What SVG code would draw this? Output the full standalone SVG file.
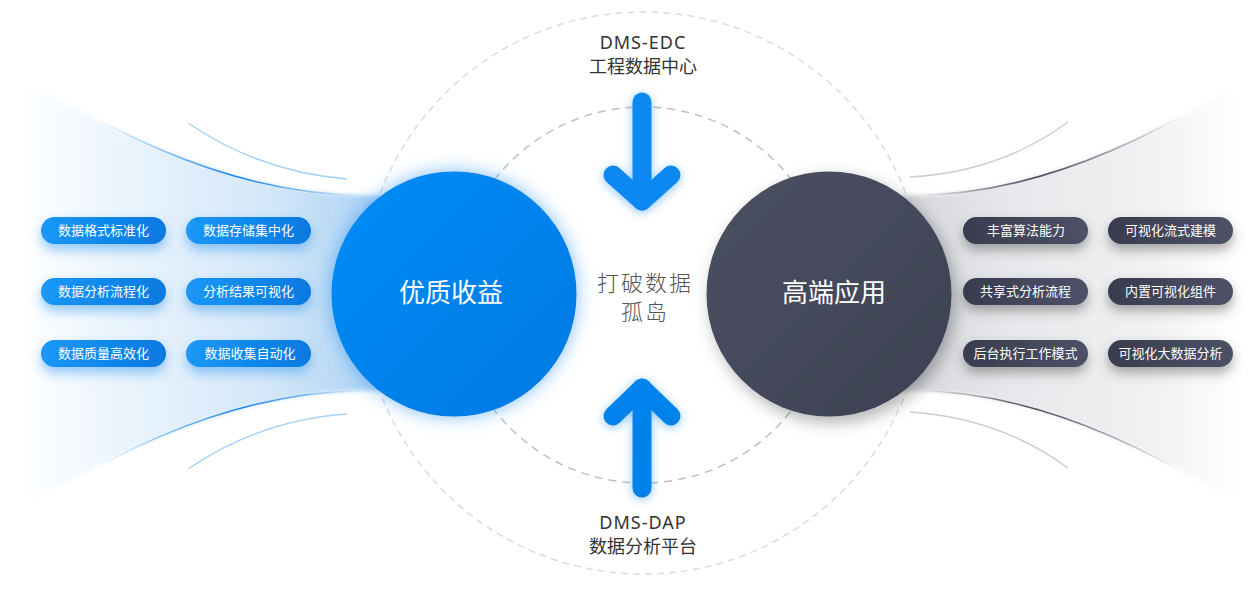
<svg xmlns="http://www.w3.org/2000/svg" width="1255" height="615" viewBox="0 0 1255 615">
<defs>
<style>
.pill-t{font-family:"Noto Sans CJK SC","Noto Sans",sans-serif;font-size:13px;fill:#fff;text-anchor:middle}
.big-t{font-family:"Noto Sans CJK SC","Noto Sans",sans-serif;font-size:26px;fill:#fff;text-anchor:middle}
.lbl-en{font-family:"Noto Sans","Open Sans",sans-serif;font-size:18px;fill:#333;text-anchor:middle;letter-spacing:1px}
.lbl-cn{font-family:"Noto Sans CJK SC",sans-serif;font-size:18px;fill:#333;text-anchor:middle}
.mid-t{font-family:"Noto Sans CJK SC",sans-serif;font-size:22px;fill:#555;text-anchor:middle;letter-spacing:2px;font-weight:300}
.arrow{fill:none;stroke-width:19;stroke-linecap:round;stroke-linejoin:round}
</style>
<linearGradient id="fanL" x1="20" y1="0" x2="385" y2="0" gradientUnits="userSpaceOnUse">
<stop offset="0" stop-color="#eaf4fd" stop-opacity="0"/>
<stop offset="0.25" stop-color="#eaf4fd" stop-opacity="0.9"/>
<stop offset="0.7" stop-color="#d2e6f8"/>
<stop offset="1" stop-color="#a9d0f4"/>
</linearGradient>
<linearGradient id="fanR" x1="1240" y1="0" x2="900" y2="0" gradientUnits="userSpaceOnUse">
<stop offset="0" stop-color="#f4f4f6" stop-opacity="0"/>
<stop offset="0.25" stop-color="#f2f2f4"/>
<stop offset="0.7" stop-color="#e6e7ea"/>
<stop offset="1" stop-color="#d4d5da"/>
</linearGradient>
<linearGradient id="edgeL" x1="100" y1="0" x2="360" y2="0" gradientUnits="userSpaceOnUse">
<stop offset="0" stop-color="#0a7de8" stop-opacity="0"/>
<stop offset="0.55" stop-color="#0a7de8" stop-opacity="0.95"/>
<stop offset="1" stop-color="#0a7de8" stop-opacity="0"/>
</linearGradient>
<linearGradient id="edgeR" x1="1180" y1="0" x2="920" y2="0" gradientUnits="userSpaceOnUse">
<stop offset="0" stop-color="#3c3f52" stop-opacity="0"/>
<stop offset="0.55" stop-color="#3c3f52" stop-opacity="0.95"/>
<stop offset="1" stop-color="#3c3f52" stop-opacity="0"/>
</linearGradient>
<linearGradient id="blueC" x1="0" y1="0" x2="1" y2="1">
<stop offset="0" stop-color="#068cf6"/>
<stop offset="1" stop-color="#0079e2"/>
</linearGradient>
<linearGradient id="darkC" x1="0" y1="0" x2="1" y2="1">
<stop offset="0" stop-color="#4d5064"/>
<stop offset="1" stop-color="#3d4053"/>
</linearGradient>
<linearGradient id="pillB" x1="0" y1="0" x2="1" y2="0">
<stop offset="0" stop-color="#1b98f6"/>
<stop offset="1" stop-color="#0679e0"/>
</linearGradient>
<linearGradient id="pillD" x1="0" y1="0" x2="1" y2="0">
<stop offset="0" stop-color="#393c4f"/>
<stop offset="1" stop-color="#4e5167"/>
</linearGradient>
<linearGradient id="arrowG" x1="0" y1="90" x2="0" y2="500" gradientUnits="userSpaceOnUse">
<stop offset="0" stop-color="#0a8af2"/>
<stop offset="1" stop-color="#0080ea"/>
</linearGradient>
<filter id="glowB" x="-30%" y="-30%" width="160%" height="160%">
<feDropShadow dx="0" dy="0" stdDeviation="9" flood-color="#2a93f0" flood-opacity="0.6"/>
</filter>
<filter id="shadowD" x="-30%" y="-30%" width="160%" height="160%">
<feDropShadow dx="4" dy="6" stdDeviation="8" flood-color="#000" flood-opacity="0.3"/>
</filter>
<filter id="pillGlowB" x="-30%" y="-80%" width="160%" height="300%">
<feDropShadow dx="0" dy="6" stdDeviation="6" flood-color="#3f9ef0" flood-opacity="0.55"/>
</filter>
<filter id="pillShD" x="-30%" y="-80%" width="160%" height="300%">
<feDropShadow dx="0" dy="6" stdDeviation="6" flood-color="#444" flood-opacity="0.45"/>
</filter>
<filter id="arrowGlow" filterUnits="userSpaceOnUse" x="580" y="70" width="125" height="450">
<feDropShadow dx="0" dy="2" stdDeviation="5" flood-color="#1a8cf0" flood-opacity="0.5"/>
</filter>
<filter id="fanBlur" x="-5%" y="-5%" width="110%" height="110%">
<feGaussianBlur stdDeviation="2"/>
</filter>
</defs>
<rect width="1255" height="615" fill="#fff"/>

<g id="backgrounds">
<path d="M27,82 Q230,200 380,195 L380,391 Q230,386 27,504 Z" fill="url(#fanL)" filter="url(#fanBlur)"/>
<path d="M60,98 Q230,200 380,195" fill="none" stroke="url(#edgeL)" stroke-width="1.5"/>
<path d="M60,488 Q230,386 380,391" fill="none" stroke="url(#edgeL)" stroke-width="1.5"/>
<path d="M188,123 Q260,172 347,179" fill="none" stroke="#a9d3f6" stroke-width="1.5"/>
<path d="M188,469 Q260,420 347,414" fill="none" stroke="#a9d3f6" stroke-width="1.5"/>

<path d="M1237,86 Q1042,200 900,195 L900,391 Q1042,386 1237,502 Z" fill="url(#fanR)" filter="url(#fanBlur)"/>
<path d="M1210,100 Q1042,200 900,195" fill="none" stroke="url(#edgeR)" stroke-width="1.5"/>
<path d="M1210,488 Q1042,386 900,391" fill="none" stroke="url(#edgeR)" stroke-width="1.5"/>
<path d="M1068,122 Q1000,172 910,177" fill="none" stroke="#cdcdda" stroke-width="1.5"/>
<path d="M1068,468 Q1000,418 910,412" fill="none" stroke="#cdcdda" stroke-width="1.5"/>

<circle cx="643" cy="293" r="281" fill="none" stroke="#dcdcdf" stroke-width="1.5" stroke-dasharray="7 5"/>
<circle cx="643" cy="295" r="188" fill="none" stroke="#bfbfc4" stroke-width="1.5" stroke-dasharray="8 6"/>
</g>

<g id="connectors">
<g filter="url(#arrowGlow)" stroke="url(#arrowG)">
<path class="arrow" d="M642,102 L642,201"/>
<path class="arrow" d="M613,175 L642,201 L671,175"/>
</g>
<g filter="url(#arrowGlow)" stroke="url(#arrowG)">
<path class="arrow" d="M642,488 L642,388"/>
<path class="arrow" d="M613,416 L642,388 L671,416"/>
</g>
</g>

<g id="node-youzhi">
<circle cx="454" cy="294" r="122.5" fill="url(#blueC)" filter="url(#glowB)"/>
<text class="big-t" x="451" y="302">优质收益</text>
</g>
<g id="node-gaoduan">
<circle cx="829" cy="294" r="122.5" fill="url(#darkC)" filter="url(#shadowD)"/>
<text class="big-t" x="834" y="302">高端应用</text>
</g>

<g id="node-edc">
<text class="lbl-en" x="643" y="49">DMS-EDC</text>
<text class="lbl-cn" x="643" y="73">工程数据中心</text>
</g>
<g id="node-dap">
<text class="lbl-en" x="643" y="529">DMS-DAP</text>
<text class="lbl-cn" x="643" y="553">数据分析平台</text>
</g>
<g id="node-center">
<text class="mid-t" x="645" y="291">打破数据</text>
<text class="mid-t" x="645" y="320">孤岛</text>
</g>

<g id="pills-left">
<g id="pill-l1"><rect x="41" y="217" width="125" height="27" rx="13.5" fill="url(#pillB)" filter="url(#pillGlowB)"/><text class="pill-t" x="103.5" y="235">数据格式标准化</text></g>
<g id="pill-l2"><rect x="186" y="217" width="125" height="27" rx="13.5" fill="url(#pillB)" filter="url(#pillGlowB)"/><text class="pill-t" x="248.5" y="235">数据存储集中化</text></g>
<g id="pill-l3"><rect x="41" y="278" width="125" height="27" rx="13.5" fill="url(#pillB)" filter="url(#pillGlowB)"/><text class="pill-t" x="103.5" y="296">数据分析流程化</text></g>
<g id="pill-l4"><rect x="186" y="278" width="125" height="27" rx="13.5" fill="url(#pillB)" filter="url(#pillGlowB)"/><text class="pill-t" x="248.5" y="296">分析结果可视化</text></g>
<g id="pill-l5"><rect x="41" y="340" width="125" height="27" rx="13.5" fill="url(#pillB)" filter="url(#pillGlowB)"/><text class="pill-t" x="103.5" y="358">数据质量高效化</text></g>
<g id="pill-l6"><rect x="186" y="340" width="125" height="27" rx="13.5" fill="url(#pillB)" filter="url(#pillGlowB)"/><text class="pill-t" x="250" y="358">数据收集自动化</text></g>
</g>

<g id="pills-right">
<g id="pill-r1"><rect x="963" y="217" width="125" height="27" rx="13.5" fill="url(#pillD)" filter="url(#pillShD)"/><text class="pill-t" x="1026" y="235">丰富算法能力</text></g>
<g id="pill-r2"><rect x="1108" y="217" width="125" height="27" rx="13.5" fill="url(#pillD)" filter="url(#pillShD)"/><text class="pill-t" x="1170.5" y="235">可视化流式建模</text></g>
<g id="pill-r3"><rect x="963" y="278" width="125" height="27" rx="13.5" fill="url(#pillD)" filter="url(#pillShD)"/><text class="pill-t" x="1025.5" y="296">共享式分析流程</text></g>
<g id="pill-r4"><rect x="1108" y="278" width="125" height="27" rx="13.5" fill="url(#pillD)" filter="url(#pillShD)"/><text class="pill-t" x="1170.5" y="296">内置可视化组件</text></g>
<g id="pill-r5"><rect x="963" y="340" width="125" height="27" rx="13.5" fill="url(#pillD)" filter="url(#pillShD)"/><text class="pill-t" x="1025.5" y="358">后台执行工作模式</text></g>
<g id="pill-r6"><rect x="1108" y="340" width="125" height="27" rx="13.5" fill="url(#pillD)" filter="url(#pillShD)"/><text class="pill-t" x="1170.5" y="358">可视化大数据分析</text></g>
</g>
</svg>
